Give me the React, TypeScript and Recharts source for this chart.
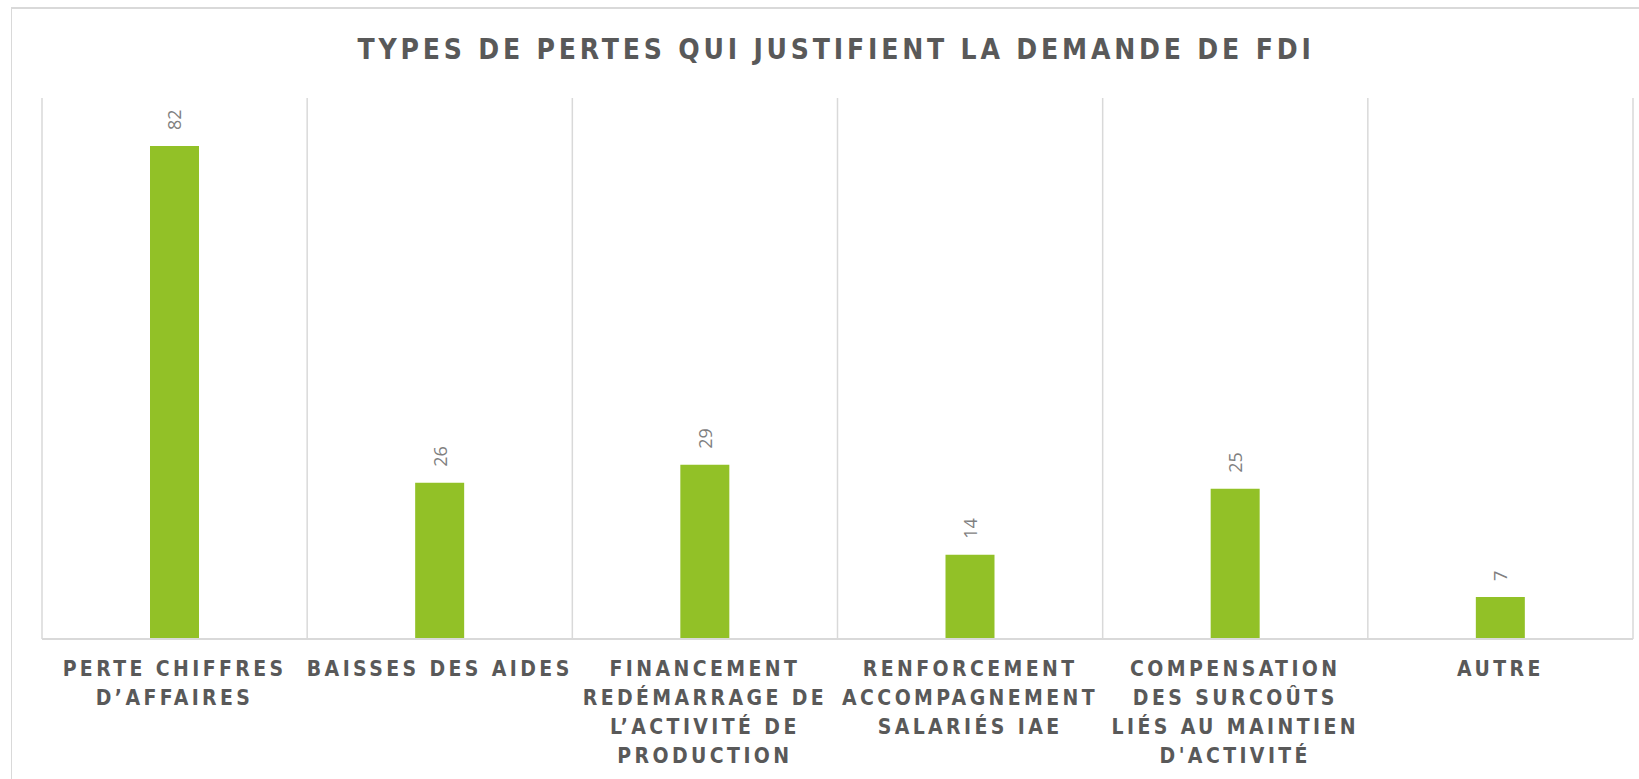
import React from 'react';
import { BarChart, Bar, XAxis, YAxis, CartesianGrid, LabelList } from 'recharts';

const categories = [
  "PERTE CHIFFRES\nD\u2019AFFAIRES",
  "BAISSES DES AIDES",
  "FINANCEMENT\nREDÉMARRAGE DE\nL\u2019ACTIVITÉ DE\nPRODUCTION",
  "RENFORCEMENT\nACCOMPAGNEMENT\nSALARIÉS IAE",
  "COMPENSATION\nDES SURCOÛTS\nLIÉS AU MAINTIEN\nD'ACTIVITÉ",
  "AUTRE",
];
const values = [82, 26, 29, 14, 25, 7];
const title = "TYPES DE PERTES QUI JUSTIFIENT LA DEMANDE DE FDI";

const data = categories.map((c, i) => ({ name: c, value: values[i] }));

const FONT = '"DejaVu Sans Condensed", "DejaVu Sans", sans-serif';

const CategoryTick = (props: any) => {
  const { x, y, payload } = props;
  const lines = String(payload.value).split('\n');
  return (
    <g transform={`translate(${x},${y})`}>
      <text
        textAnchor="middle"
        fill="#595959"
        fontFamily={FONT}
        fontWeight="bold"
        fontSize={21}
        letterSpacing={3.4}
      >
        {lines.map((l, i) => (
          <tspan key={i} x={0} y={29 + i * 29}>{l}</tspan>
        ))}
      </text>
    </g>
  );
};

const ValueLabel = (props: any) => {
  const { x, y, width, value } = props;
  const cx = x + width / 2;
  const cy = y - 16;
  return (
    <text
      x={cx}
      y={cy}
      transform={`rotate(-90 ${cx} ${cy})`}
      textAnchor="start"
      dominantBaseline="central"
      fill="#7f7f7f"
      fontFamily='"Open Sans", sans-serif'
      fontSize={18}
    >
      {value}
    </text>
  );
};

export default function App() {
  return (
    <div
      style={{
        position: 'absolute',
        left: 11,
        top: 7,
        width: 1628,
        height: 772,
        borderTop: '2px solid #d9d9d9',
        borderLeft: '1px solid #d9d9d9',
        background: '#fff',
        boxSizing: 'border-box',
      }}
    >
      <div
        style={{
          position: 'absolute',
          left: 0,
          width: 1648,
          top: 24,
          textAlign: 'center',
          fontFamily: FONT,
          fontWeight: 'bold',
          fontSize: 28,
          letterSpacing: 3.8,
          color: '#595959',
          whiteSpace: 'nowrap',
        }}
      >
        {title}
      </div>
      <div style={{ position: 'absolute', left: -1, top: -2 }}>
        <BarChart
          width={1628}
          height={772}
          data={data}
          margin={{ top: 91, right: 6, left: 31, bottom: 0 }}
          barSize={49}
        >
          <CartesianGrid
            horizontal={false}
            stroke="#d9d9d9"
            strokeWidth={1.5}
            verticalCoordinatesGenerator={({ offset }: any) =>
              categories.map((_, i) => offset.left + (i * offset.width) / categories.length).concat([offset.left + offset.width])
            }
          />
          <YAxis hide domain={[0, 90]} />
          <XAxis
            dataKey="name"
            height={140}
            interval={0}
            tickLine={false}
            axisLine={{ stroke: '#d9d9d9', strokeWidth: 2 }}
            tick={<CategoryTick />}
          />
          <Bar dataKey="value" fill="#92c127" isAnimationActive={false}>
            <LabelList dataKey="value" content={<ValueLabel />} />
          </Bar>
        </BarChart>
      </div>
    </div>
  );
}
